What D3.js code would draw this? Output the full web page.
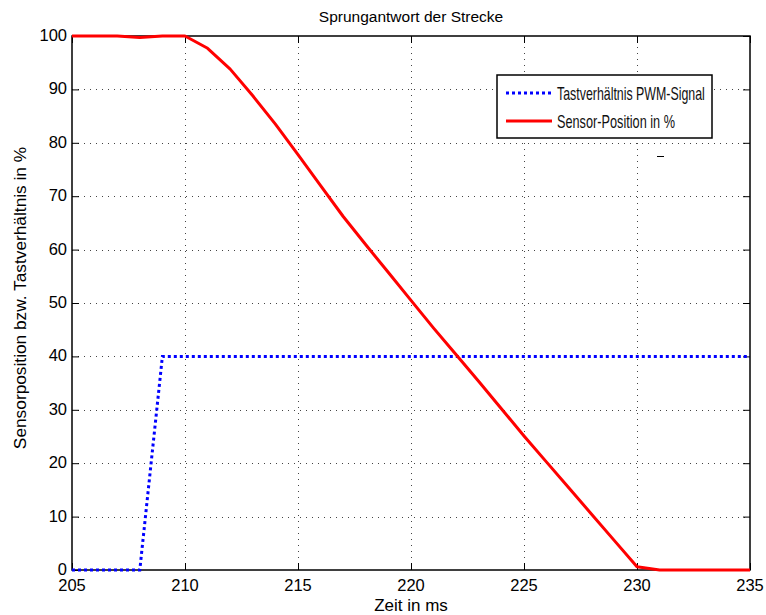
<!DOCTYPE html>
<html>
<head>
<meta charset="utf-8">
<script src="https://cdn.jsdelivr.net/npm/d3@7"></script>
<style>
  body { margin: 0; background: #fff; }
  svg { display: block; font-family: "Liberation Sans", Arial, sans-serif; }
</style>
</head>
<body>
<div id="chart"></div>
<script>
const width = 766;
const height = 615;
const margin = { top: 36, right: 16, bottom: 45, left: 72 };

// Zeit in ms
const zeit = [205, 206, 207, 208, 209, 210, 211, 212, 213, 214, 215, 216, 217, 218, 219, 220,
              221, 222, 223, 224, 225, 226, 227, 228, 229, 230, 231, 232, 233, 234, 235];
// Tastverhältnis PWM-Signal
const pwm = [0, 0, 0, 0, 40, 40, 40, 40, 40, 40, 40, 40, 40, 40, 40, 40,
             40, 40, 40, 40, 40, 40, 40, 40, 40, 40, 40, 40, 40, 40, 40];
// Sensor-Position in %
const sensor = [100, 100, 100, 99.7, 100, 100, 97.7, 93.8, 88.8, 83.5, 77.8, 72.0, 66.2, 60.9, 55.7, 50.5,
                45.3, 40.3, 35.3, 30.2, 25.1, 20.2, 15.3, 10.4, 5.5, 0.6, 0, 0, 0, 0, 0];

const xTicks = [205, 210, 215, 220, 225, 230, 235];
const yTicks = [0, 10, 20, 30, 40, 50, 60, 70, 80, 90, 100];
const legendLabels = ["Tastverhältnis PWM-Signal", "Sensor-Position in %"];

const x = d3.scaleLinear().domain([205, 235]).range([margin.left, width - margin.right]);
const y = d3.scaleLinear().domain([0, 100]).range([height - margin.bottom, margin.top]);

const svg = d3.select("#chart")
    .append("svg")
    .attr("width", width)
    .attr("height", height);

// grid
const grid = svg.append("g")
    .attr("stroke", "#444")
    .attr("stroke-width", 1)
    .attr("stroke-dasharray", "1,5")
    .attr("shape-rendering", "crispEdges");

grid.selectAll(".gx")
    .data(xTicks.slice(1, -1))
    .join("line")
    .attr("x1", d => Math.round(x(d)) + 0.5)
    .attr("x2", d => Math.round(x(d)) + 0.5)
    .attr("y1", y(0))
    .attr("y2", y(100));

grid.selectAll(".gy")
    .data(yTicks.slice(1, -1))
    .join("line")
    .attr("x1", x(205))
    .attr("x2", x(235))
    .attr("y1", d => Math.round(y(d)) + 0.5)
    .attr("y2", d => Math.round(y(d)) + 0.5);

// axes, ticks inward like matlab box
const tickLen = 7;
svg.append("g")
    .attr("transform", `translate(0,${y(0)})`)
    .call(d3.axisTop(x).tickValues(xTicks).tickSize(tickLen).tickFormat(""))
    .call(g => g.select(".domain").remove());
svg.append("g")
    .attr("transform", `translate(0,${y(100)})`)
    .call(d3.axisBottom(x).tickValues(xTicks).tickSize(tickLen).tickFormat(""))
    .call(g => g.select(".domain").remove());
svg.append("g")
    .attr("transform", `translate(${x(205)},0)`)
    .call(d3.axisRight(y).tickValues(yTicks).tickSize(tickLen).tickFormat(""))
    .call(g => g.select(".domain").remove());
svg.append("g")
    .attr("transform", `translate(${x(235)},0)`)
    .call(d3.axisLeft(y).tickValues(yTicks).tickSize(tickLen).tickFormat(""))
    .call(g => g.select(".domain").remove());

svg.append("rect")
    .attr("x", x(205))
    .attr("y", y(100))
    .attr("width", x(235) - x(205))
    .attr("height", y(0) - y(100))
    .attr("fill", "none")
    .attr("stroke", "#000")
    .attr("stroke-width", 1.5);

// tick labels
svg.append("g")
    .attr("font-size", 16.5)
    .attr("text-anchor", "middle")
    .selectAll("text")
    .data(xTicks)
    .join("text")
    .attr("x", d => x(d))
    .attr("y", y(0) + 21)
    .text(d => d);

svg.append("g")
    .attr("font-size", 16.5)
    .attr("text-anchor", "end")
    .selectAll("text")
    .data(yTicks)
    .join("text")
    .attr("x", x(205) - 5)
    .attr("y", d => y(d) + 5)
    .text(d => d);

// lines
const line = (vals) => d3.line()
    .x((d, i) => x(zeit[i]))
    .y(d => y(d))(vals);

svg.append("path")
    .attr("d", line(pwm))
    .attr("fill", "none")
    .attr("stroke", "#0000ff")
    .attr("stroke-width", 3)
    .attr("stroke-dasharray", "3,3");

svg.append("path")
    .attr("d", line(sensor))
    .attr("fill", "none")
    .attr("stroke", "#ff0000")
    .attr("stroke-width", 3)
    .attr("stroke-linejoin", "round");

// titles
svg.append("text")
    .attr("x", (x(205) + x(235)) / 2)
    .attr("y", 22)
    .attr("text-anchor", "middle")
    .attr("font-size", 15.5)
    .text("Sprungantwort der Strecke");

svg.append("text")
    .attr("x", (x(205) + x(235)) / 2)
    .attr("y", 611)
    .attr("text-anchor", "middle")
    .attr("font-size", 17)
    .text("Zeit in ms");

svg.append("text")
    .attr("transform", "translate(26,298) rotate(-90)")
    .attr("text-anchor", "middle")
    .attr("font-size", 17.3)
    .text("Sensorposition bzw. Tastverhältnis in %");

// legend
const legend = svg.append("g").attr("transform", "translate(497,75)");
legend.append("rect")
    .attr("width", 215)
    .attr("height", 63)
    .attr("fill", "#fff")
    .attr("stroke", "#000")
    .attr("stroke-width", 1.5);

const styles = [
    { color: "#0000ff", dash: "3,3", len: 148 },
    { color: "#ff0000", dash: null, len: 118 }
];
legend.selectAll("g")
    .data(legendLabels)
    .join("g")
    .attr("transform", (d, i) => `translate(0,${18 + i * 28})`)
    .each(function (d, i) {
        const g = d3.select(this);
        g.append("line")
            .attr("x1", 9).attr("x2", 55)
            .attr("stroke", styles[i].color)
            .attr("stroke-width", 3)
            .attr("stroke-dasharray", styles[i].dash);
        // legend font is a narrow one: squeeze it horizontally to the reference width
        const t = g.append("text")
            .attr("font-size", 18)
            .attr("fill", "#111")
            .text(d);
        const k = styles[i].len / t.node().getComputedTextLength();
        t.attr("transform", `translate(60,7) scale(${k},1)`);
    });

// little stray mark under the legend
svg.append("line")
    .attr("x1", 657).attr("x2", 664)
    .attr("y1", 156.5).attr("y2", 156.5)
    .attr("stroke", "#000")
    .attr("stroke-width", 1);
</script>
</body>
</html>
